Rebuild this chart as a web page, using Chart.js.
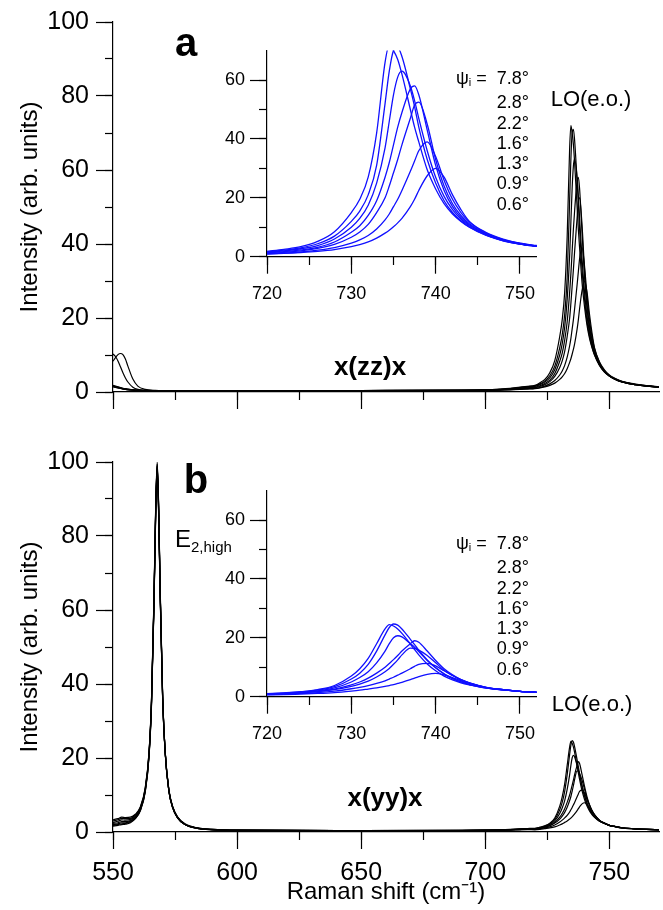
<!DOCTYPE html>
<html>
<head>
<meta charset="utf-8">
<script src="https://cdn.jsdelivr.net/npm/chart.js@4.4.1/dist/chart.umd.min.js"></script>
<style>
  body { margin: 0; background: #fff; width: 663px; height: 910px; position: relative; overflow: hidden;
         font-family: "Liberation Sans", Arial, sans-serif; color: #000; }
  canvas { position: absolute; }
  .t { position: absolute; white-space: nowrap; line-height: 1; transform: translate(-50%, -50%); }
  .bold { font-weight: bold; }
  .legend { position: absolute; font-size: 18px; line-height: 20.3px; text-align: right; width: 120px; }
  .legend sub { font-size: 11px; vertical-align: -2px; }
  .e2 { position: absolute; font-size: 24px; line-height: 1; white-space: nowrap; }
  .e2 sub { font-size: 15px; vertical-align: -5px; }
</style>
</head>
<body>
<canvas id="mainA" width="663" height="430" style="left:0px;top:0px"></canvas>
<canvas id="mainB" width="663" height="470" style="left:0px;top:440px"></canvas>
<canvas id="insetA" width="345" height="290" style="left:200px;top:30px"></canvas>
<canvas id="insetB" width="345" height="290" style="left:200px;top:470px"></canvas>

<div class="t bold" style="left:186px;top:42px;font-size:40px">a</div>
<div class="t bold" style="left:196px;top:479px;font-size:40px">b</div>
<div class="t bold" style="left:370px;top:366px;font-size:26px">x(zz)x</div>
<div class="t bold" style="left:385px;top:797px;font-size:26px">x(yy)x</div>
<div class="t" style="left:591px;top:99px;font-size:22px">LO(e.o.)</div>
<div class="t" style="left:592px;top:704px;font-size:22px">LO(e.o.)</div>
<div class="e2" style="left:175px;top:527px">E<sub>2,high</sub></div>
<div class="legend" id="legA" style="left:409px;top:68px"></div>
<div class="legend" id="legB" style="left:409px;top:533px"></div>

<script>
// psi_i of each spectrum, top curve first
const angles = ['7.8°', '2.8°', '2.2°', '1.6°', '1.3°', '0.9°', '0.6°'];

// Raman shift grid (cm-1) of the inset zoom, shared by both insets
const insetShift = [720, 722, 724, 726, 728, 730, 731, 732, 733, 734, 734.5, 735, 735.5, 736, 737, 737.5, 738, 739, 740, 741, 742, 743, 744, 746, 748, 750, 752];

// x(zz)x, LO(e.o.) region
const zz78 = [1.8, 2.5, 3.4, 5.2, 8.5, 15, 19.5, 27, 42, 66, 72, 70, 67, 62, 50, 44, 39, 29.5, 23, 18, 14.5, 12, 10, 7.2, 5.4, 4.3, 3.5];
const zz28 = [1.7, 2.2, 3.0, 4.4, 7.0, 12, 15.5, 21, 31, 52, 63, 70, 71, 68, 57, 51, 44, 33, 25, 19, 15, 12.2, 10.1, 7.3, 5.5, 4.3, 3.5];
const zz22 = [1.5, 2.0, 2.7, 3.8, 6.0, 10, 13, 17.5, 25, 37, 46, 55, 61, 63, 58, 53, 47, 36, 27, 20.5, 16, 12.8, 10.4, 7.4, 5.5, 4.3, 3.5];
const zz16 = [1.3, 1.7, 2.3, 3.2, 5.0, 8.3, 10.5, 14, 19, 27, 32, 38, 44, 49, 57, 58, 55, 43, 31, 22.5, 17, 13.3, 10.8, 7.6, 5.6, 4.4, 3.6];
const zz13 = [1.2, 1.5, 2.0, 2.8, 4.2, 6.6, 8.4, 11, 15, 20, 24, 28.5, 33, 38, 47, 51.5, 52.5, 45, 33, 24, 18, 14, 11.2, 7.8, 5.7, 4.4, 3.6];
const zz09 = [1.0, 1.2, 1.6, 2.2, 3.1, 4.6, 5.7, 7.2, 9.4, 12.5, 14.5, 17, 19.5, 22.5, 29, 32.5, 36, 39, 34, 26, 19.5, 15, 11.8, 8, 5.8, 4.5, 3.7];
const zz06 = [0.9, 1.1, 1.4, 1.8, 2.4, 3.4, 4.1, 5.0, 6.3, 8, 9, 10.2, 11.5, 13, 17, 19.5, 22.5, 27.5, 30, 27, 21, 16, 12, 8.2, 6, 4.6, 3.8];

// x(yy)x, LO(e.o.) region
const yy78 = [1.0, 1.3, 1.7, 2.4, 3.8, 7, 9.5, 13, 18, 23, 24.5, 24, 23, 21.5, 17.9, 16, 14.2, 11.1, 8.8, 7, 5.7, 4.7, 4.0, 2.9, 2.3, 1.8, 1.5];
const yy28 = [0.9, 1.2, 1.6, 2.2, 3.4, 6, 8, 11, 15.5, 21, 23.5, 24.7, 24.3, 23, 19.5, 17.7, 15.8, 12.5, 9.8, 7.7, 6.1, 5, 4.1, 3.0, 2.3, 1.8, 1.5];
const yy22 = [0.9, 1.1, 1.5, 2.0, 3.0, 5, 6.5, 8.5, 11.5, 15.5, 18, 20, 20.7, 20.3, 18, 16.8, 15.3, 12.3, 9.8, 7.8, 6.2, 5, 4.1, 3.0, 2.3, 1.8, 1.5];
const yy16 = [0.8, 1.0, 1.3, 1.8, 2.6, 4, 5, 6.3, 8, 10, 11.3, 12.6, 14, 15.5, 18, 19, 18.5, 15.5, 12.3, 9.5, 7.4, 5.8, 4.7, 3.2, 2.4, 1.8, 1.5];
const yy13 = [0.8, 1.0, 1.3, 1.7, 2.4, 3.5, 4.3, 5.3, 6.7, 8.5, 9.6, 11, 12.5, 14.2, 16.5, 16.4, 15.8, 14, 11.5, 9, 7.2, 5.7, 4.6, 3.1, 2.4, 1.8, 1.5];
const yy09 = [0.7, 0.9, 1.1, 1.4, 1.9, 2.7, 3.2, 3.8, 4.5, 5.4, 6, 6.6, 7.3, 8, 9.5, 10.3, 11, 11.3, 10.5, 8.8, 7.2, 5.8, 4.7, 3.2, 2.4, 1.8, 1.5];
const yy06 = [0.6, 0.7, 0.9, 1.1, 1.4, 1.9, 2.2, 2.6, 3.0, 3.5, 3.8, 4.1, 4.5, 4.9, 5.8, 6.3, 6.8, 7.6, 7.9, 7.4, 6.5, 5.4, 4.5, 3.1, 2.4, 1.8, 1.5];

// full spectra, x(zz)x: part below and above the zoom window
const zzLowShift = [550, 551, 552, 553, 554, 555, 556, 558, 560, 563, 567, 575, 600, 650, 690, 700, 706, 710, 714, 717];
const zzLow78 = [10.3, 9.6, 8.4, 6.8, 5.2, 3.8, 2.7, 1.3, 0.7, 0.5, 0.4, 0.35, 0.35, 0.4, 0.5, 0.6, 0.8, 1.0, 1.3, 1.55];
const zzLow28 = [8.3, 9.3, 10.1, 10.4, 10.1, 8.9, 7.0, 3.5, 1.6, 0.7, 0.45, 0.35, 0.35, 0.4, 0.5, 0.6, 0.75, 0.95, 1.2, 1.45];
const zzLow22 = [1.8, 1.6, 1.4, 1.2, 1.0, 0.9, 0.8, 0.6, 0.5, 0.4, 0.35, 0.3, 0.3, 0.35, 0.45, 0.55, 0.7, 0.85, 1.05, 1.3];
const zzLow16 = [1.7, 1.5, 1.3, 1.1, 0.95, 0.85, 0.75, 0.6, 0.5, 0.4, 0.35, 0.3, 0.3, 0.35, 0.45, 0.5, 0.6, 0.75, 0.95, 1.15];
const zzLow13 = [1.6, 1.4, 1.2, 1.05, 0.9, 0.8, 0.7, 0.55, 0.45, 0.4, 0.35, 0.3, 0.3, 0.35, 0.4, 0.5, 0.6, 0.7, 0.9, 1.05];
const zzLow09 = [1.5, 1.3, 1.15, 1.0, 0.85, 0.75, 0.65, 0.5, 0.45, 0.35, 0.3, 0.3, 0.3, 0.3, 0.4, 0.45, 0.55, 0.65, 0.8, 0.9];
const zzLow06 = [1.4, 1.25, 1.1, 0.95, 0.8, 0.7, 0.6, 0.5, 0.4, 0.35, 0.3, 0.25, 0.25, 0.3, 0.35, 0.4, 0.5, 0.6, 0.7, 0.8];
const highShift = [755, 760, 765, 770];
const zzHigh78 = [2.7, 2.0, 1.6, 1.3];
const zzHigh28 = [2.7, 2.0, 1.6, 1.3];
const zzHigh22 = [2.7, 2.0, 1.6, 1.3];
const zzHigh16 = [2.8, 2.1, 1.6, 1.3];
const zzHigh13 = [2.8, 2.1, 1.65, 1.35];
const zzHigh09 = [2.9, 2.1, 1.7, 1.4];
const zzHigh06 = [2.9, 2.2, 1.7, 1.4];

// full spectra, x(yy)x (E2,high peak)
const yyLowShift = [550, 552, 553.5, 555, 557, 559, 561, 563, 564.5, 565.5, 566.5, 567.2, 567.8, 568.4, 569, 570, 571, 572.5, 574, 576, 579, 584, 590, 600, 650, 690, 700, 706, 710, 714, 717];
const yyLow78 = [3.3, 3.6, 4.0, 3.9, 4.0, 4.8, 6.8, 12, 21.5, 35.5, 63, 88, 100, 88, 66, 37, 22, 11.5, 7, 4.1, 2.2, 1.1, 0.7, 0.5, 0.4, 0.45, 0.5, 0.6, 0.7, 0.85, 0.95];
const yyLow28 = [3.0, 3.3, 3.7, 3.6, 3.7, 4.6, 6.6, 11.8, 21.3, 35.2, 62.5, 87.5, 99.5, 87.5, 65.5, 36.8, 21.9, 11.4, 6.9, 4.0, 2.1, 1.1, 0.7, 0.5, 0.4, 0.45, 0.5, 0.55, 0.65, 0.8, 0.9];
const yyLow22 = [2.6, 2.9, 3.3, 3.2, 3.4, 4.3, 6.4, 11.6, 21, 35, 62, 87, 99, 87, 65, 36.5, 21.8, 11.3, 6.8, 4.0, 2.1, 1.05, 0.7, 0.5, 0.4, 0.45, 0.5, 0.55, 0.65, 0.8, 0.9];
const yyLow16 = [2.3, 2.5, 2.8, 2.8, 3.1, 4.1, 6.2, 11.4, 20.8, 34.8, 61.8, 86.5, 98.5, 86.5, 64.8, 36.3, 21.7, 11.2, 6.8, 3.9, 2.0, 1.0, 0.65, 0.45, 0.35, 0.4, 0.45, 0.5, 0.6, 0.7, 0.8];
const yyLow13 = [2.0, 2.2, 2.5, 2.5, 2.9, 3.9, 6.0, 11.2, 20.6, 34.6, 61.5, 86.8, 99, 86.8, 65, 36.4, 21.7, 11.2, 6.7, 3.9, 2.0, 1.0, 0.65, 0.45, 0.35, 0.4, 0.45, 0.5, 0.6, 0.7, 0.8];
const yyLow09 = [1.8, 2.0, 2.2, 2.3, 2.7, 3.7, 5.8, 11, 20.4, 34.3, 61.2, 86, 98, 86, 64.5, 36.2, 21.6, 11.1, 6.7, 3.8, 2.0, 1.0, 0.6, 0.45, 0.35, 0.4, 0.45, 0.5, 0.55, 0.65, 0.7];
const yyLow06 = [1.6, 1.8, 2.0, 2.1, 2.5, 3.6, 5.7, 10.9, 20.2, 34, 60.8, 85.5, 97.5, 85.5, 64, 36, 21.5, 11.1, 6.6, 3.8, 2.0, 0.95, 0.6, 0.4, 0.35, 0.35, 0.4, 0.45, 0.5, 0.6, 0.65];
const yyHigh78 = [1.1, 0.85, 0.7, 0.6];
const yyHigh28 = [1.1, 0.85, 0.7, 0.6];
const yyHigh22 = [1.1, 0.85, 0.7, 0.6];
const yyHigh16 = [1.15, 0.9, 0.72, 0.62];
const yyHigh13 = [1.15, 0.9, 0.72, 0.62];
const yyHigh09 = [1.15, 0.9, 0.72, 0.62];
const yyHigh06 = [1.15, 0.9, 0.72, 0.62];

// axis ticks
const mainYTicks = [0, 20, 40, 60, 80, 100];
const mainXTicks = [550, 600, 650, 700, 750];
const insetYTicks = [0, 20, 40, 60];
const insetXTicks = [720, 730, 740, 750];

const zzInset = [zz78, zz28, zz22, zz16, zz13, zz09, zz06];
const yyInset = [yy78, yy28, yy22, yy16, yy13, yy09, yy06];
const zzLow = [zzLow78, zzLow28, zzLow22, zzLow16, zzLow13, zzLow09, zzLow06];
const zzHigh = [zzHigh78, zzHigh28, zzHigh22, zzHigh16, zzHigh13, zzHigh09, zzHigh06];
const yyLow = [yyLow78, yyLow28, yyLow22, yyLow16, yyLow13, yyLow09, yyLow06];
const yyHigh = [yyHigh78, yyHigh28, yyHigh22, yyHigh16, yyHigh13, yyHigh09, yyHigh06];

const FONT = '"Liberation Sans", Arial, sans-serif';
const INK = '#000';
const BLUE = '#1010ff';

function toPoints(xs, ys) {
    return xs.map((x, i) => ({ x: x, y: ys[i] }));
}

function lineSets(xs, rows, color, width) {
    return rows.map((ys, i) => ({
        label: angles[i],
        data: toPoints(xs, ys),
        borderColor: color,
        borderWidth: width,
        pointRadius: 0,
        fill: false,
        cubicInterpolationMode: 'monotone',
        xAxisID: 'x',
        yAxisID: 'y'
    }));
}

function pickTicks(list) {
    return scale => { scale.ticks = list.map(v => ({ value: v })); };
}

// major axes carry labels, the 'xm'/'ym' axes only draw the short minor ticks
function buildScales(o) {
    return {
        x: {
            type: 'linear', axis: 'x', position: 'bottom', min: o.xMin, max: o.xMax,
            afterFit: s => { s.height = o.xHeight; },
            afterBuildTicks: pickTicks(o.xTicks),
            ticks: { display: o.xLabels, color: INK, padding: o.xPad, maxRotation: 0, autoSkip: false,
                     font: { family: FONT, size: o.fs } },
            grid: { drawOnChartArea: false, tickLength: 17, tickColor: INK, tickWidth: 1.2 },
            border: { color: INK, width: 1.2 },
            title: o.xTitle ? { display: true, text: o.xTitle, color: INK,
                                font: { family: FONT, size: 24 }, padding: { top: 0, bottom: 3 } } : { display: false }
        },
        xm: {
            type: 'linear', axis: 'x', position: { y: 0 }, min: o.xMin, max: o.xMax,
            ticks: { display: false, stepSize: o.xMinor, includeBounds: false },
            grid: { drawOnChartArea: false, tickLength: 8, tickColor: INK, tickWidth: 1.2 },
            border: { display: false }
        },
        y: {
            type: 'linear', axis: 'y', position: 'left', min: 0, max: o.yMax,
            afterFit: s => { s.width = o.yWidth; },
            afterBuildTicks: pickTicks(o.yTicks),
            ticks: { color: INK, padding: o.yPad, font: { family: FONT, size: o.fs } },
            grid: { drawOnChartArea: false, tickLength: 17, tickColor: INK, tickWidth: 1.2 },
            border: { color: INK, width: 1.2 },
            title: o.yTitle ? { display: true, text: o.yTitle, color: INK,
                                font: { family: FONT, size: 24 }, padding: { top: 15.6, bottom: 0 } } : { display: false }
        },
        ym: {
            type: 'linear', axis: 'y', position: { x: o.xMin }, min: 0, max: o.yMax,
            ticks: { display: false, stepSize: 10, includeBounds: false },
            grid: { drawOnChartArea: false, tickLength: 8, tickWidth: 1.2,
                    tickColor: c => (c.tick && o.yMax === 70 && c.tick.value >= 70) ? 'rgba(0,0,0,0)' : INK },
            border: { display: false }
        }
    };
}

function draw(id, datasets, scales, padding) {
    new Chart(document.getElementById(id), {
        type: 'line',
        data: { datasets: datasets },
        options: {
            responsive: false,
            animation: false,
            devicePixelRatio: 1,
            layout: { padding: padding },
            plugins: { legend: { display: false }, tooltip: { enabled: false } },
            scales: scales
        }
    });
}

const zzFullShift = zzLowShift.concat(insetShift, highShift);
const yyFullShift = yyLowShift.concat(insetShift, highShift);
const zzFull = zzInset.map((ys, i) => zzLow[i].concat(ys, zzHigh[i]));
const yyFull = yyInset.map((ys, i) => yyLow[i].concat(ys, yyHigh[i]));

draw('mainA', lineSets(zzFullShift, zzFull, INK, 1.2), buildScales({
    xMin: 550, xMax: 770, xMinor: 25, xTicks: mainXTicks, xLabels: false, xPad: 9, xHeight: 38,
    yMax: 100, yTicks: mainYTicks, yWidth: 113, yPad: 7, fs: 25, yTitle: 'Intensity (arb. units)'
}), { top: 20, right: 4, bottom: 0, left: 0 });

draw('mainB', lineSets(yyFullShift, yyFull, INK, 1.2), buildScales({
    xMin: 550, xMax: 770, xMinor: 25, xTicks: mainXTicks, xLabels: true, xPad: 9, xHeight: 78,
    yMax: 100, yTicks: mainYTicks, yWidth: 113, yPad: 7, fs: 25, yTitle: 'Intensity (arb. units)',
    xTitle: 'Raman shift (cm\u207B\u00B9)'
}), { top: 20, right: 4, bottom: 0, left: 0 });

const insetOpts = {
    xMin: 720, xMax: 752, xMinor: 5, xTicks: insetXTicks, xLabels: true, xPad: 9.5, xHeight: 63.3,
    yMax: 70, yTicks: insetYTicks, yWidth: 67, yPad: 5, fs: 18
};
draw('insetA', lineSets(insetShift, zzInset, BLUE, 1.3), buildScales(insetOpts),
     { top: 20.6, right: 8, bottom: 0, left: 0 });
draw('insetB', lineSets(insetShift, yyInset, BLUE, 1.3), buildScales(insetOpts),
     { top: 20.6, right: 8, bottom: 0, left: 0 });

// psi_i legend text
for (const id of ['legA', 'legB']) {
    document.getElementById(id).innerHTML = angles
        .map((a, i) => '<div>' + (i === 0 ? '\u03C8<sub>i</sub> =&nbsp; ' : '') + a + '</div>')
        .join('');
}
</script>
</body>
</html>
